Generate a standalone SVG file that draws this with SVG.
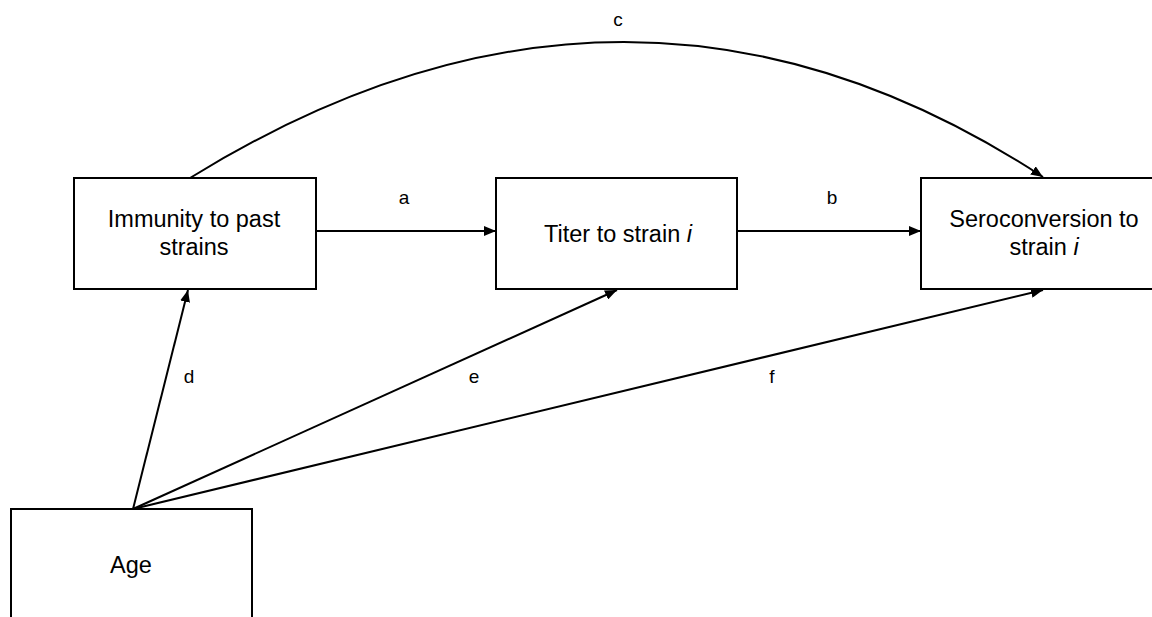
<svg xmlns="http://www.w3.org/2000/svg" width="1152" height="617" viewBox="0 0 1152 617">
<style>
.box{fill:#fff;stroke:#000;stroke-width:2}
.t{font-family:"Liberation Sans",Arial,sans-serif;font-size:23.5px;fill:#000;text-anchor:middle}
.l{font-family:"Liberation Sans",Arial,sans-serif;font-size:19px;fill:#000;text-anchor:middle}
.c{fill:none;stroke:#000;stroke-width:2}
</style>
<defs>
<marker id="arr" viewBox="0 0 12 10" refX="12" refY="5" markerWidth="12" markerHeight="10" markerUnits="userSpaceOnUse" orient="auto">
<path d="M0,0 L12,5 L0,10 Z" fill="#000"/>
</marker>
</defs>
<rect width="1152" height="617" fill="#fff"/>
<g id="connectors">
<path class="c" d="M190,178 Q629.5,-93.5 1043,177" marker-end="url(#arr)"/>
<line class="c" x1="316" y1="231" x2="496" y2="231" marker-end="url(#arr)"/>
<line class="c" x1="737" y1="231" x2="921" y2="231" marker-end="url(#arr)"/>
<line class="c" x1="133" y1="509" x2="188" y2="290" marker-end="url(#arr)"/>
<line class="c" x1="133" y1="509" x2="617" y2="290" marker-end="url(#arr)"/>
<line class="c" x1="133" y1="509" x2="1043" y2="290" marker-end="url(#arr)"/>
</g>
<g id="labels">
<text class="l" x="404" y="204">a</text>
<text class="l" x="832" y="204">b</text>
<text class="l" x="618" y="26">c</text>
<text class="l" x="189" y="383">d</text>
<text class="l" x="474" y="383">e</text>
<text class="l" x="772" y="383">f</text>
</g>
<g id="immunity">
<rect class="box" x="74" y="178" width="242" height="111"/>
<text class="t" x="194" y="227">Immunity to past</text>
<text class="t" x="194" y="255">strains</text>
</g>
<g id="titer">
<rect class="box" x="496" y="178" width="241" height="111"/>
<text class="t" x="618" y="242">Titer to strain <tspan font-style="italic">i</tspan></text>
</g>
<g id="seroconversion">
<rect class="box" x="921" y="178" width="246" height="111"/>
<text class="t" x="1044" y="227">Seroconversion to</text>
<text class="t" x="1044" y="255">strain <tspan font-style="italic">i</tspan></text>
</g>
<g id="age">
<rect class="box" x="11" y="509" width="241" height="120"/>
<text class="t" x="131" y="573">Age</text>
</g>
</svg>
